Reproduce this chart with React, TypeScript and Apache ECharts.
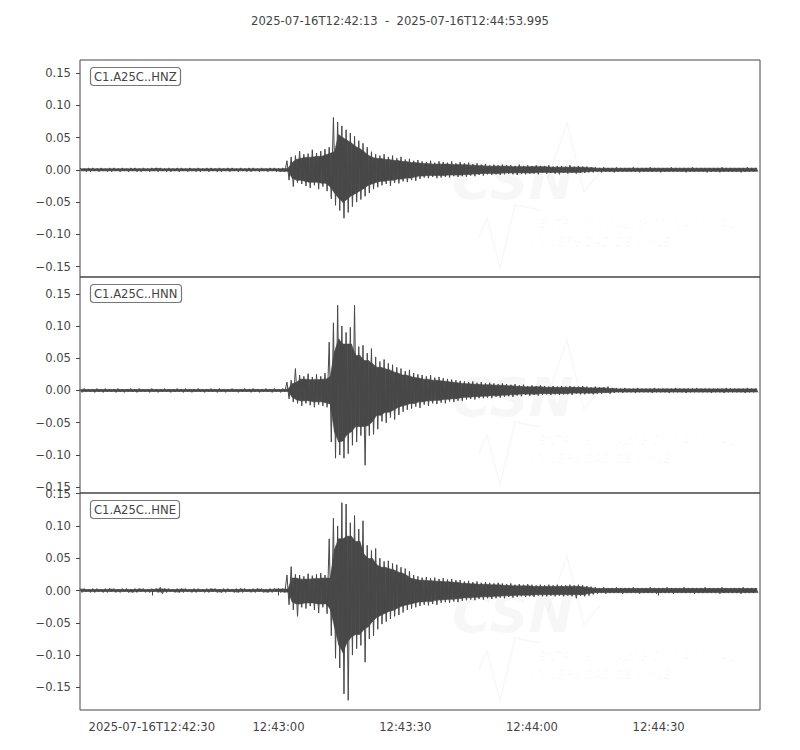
import React, { useEffect, useRef } from 'react';
import * as echarts from 'echarts';

// time window of the record (seconds after 12:42:13)
const windowTitle = '2025-07-16T12:42:13  -  2025-07-16T12:44:53.995';
const traceSeconds = 160.995;
const channels = ['C1.A25C..HNZ', 'C1.A25C..HNN', 'C1.A25C..HNE'];

// peak amplitude per 1 s bin, in units of 1e-3
const hnzUpper = [
	3, 2, 3, 3, 2, 3, 2, 3, 3, 2,
	3, 2, 3, 3, 2, 3, 2, 3, 3, 3,
	2, 3, 2, 3, 3, 2, 3, 2, 3, 2,
	3, 3, 2, 3, 2, 3, 3, 2, 3, 2,
	3, 3, 2, 3, 2, 3, 3, 2, 3, 14,
	20, 22, 29, 24, 25, 31, 26, 29, 32, 35,
	81, 74, 68, 62, 57, 52, 45, 41, 35, 28,
	24, 22, 24, 20, 22, 18, 20, 16, 17, 14,
	15, 13, 12, 14, 11, 13, 12, 11, 13, 10,
	12, 10, 11, 9, 10, 8, 9, 7, 8, 7,
	8, 7, 7, 6, 8, 6, 7, 6, 7, 6,
	6, 7, 5, 6, 6, 5, 7, 5, 6, 5,
	5, 4, 4, 3, 4, 3, 3, 4, 3, 3,
	3, 4, 3, 3, 3, 4, 3, 3, 3, 3,
	4, 3, 3, 3, 3, 4, 3, 3, 3, 3,
	3, 3, 4, 3, 3, 3, 3, 3, 4, 3,
	3
];
const hnzLower = [
	-2, -3, -3, -2, -3, -2, -3, -3, -2, -3,
	-2, -3, -2, -3, -3, -2, -3, -2, -3, -2,
	-3, -3, -2, -3, -2, -3, -2, -3, -3, -2,
	-3, -2, -3, -3, -2, -3, -2, -3, -2, -3,
	-3, -2, -3, -2, -3, -2, -3, -3, -3, -16,
	-26, -20, -22, -25, -28, -24, -30, -26, -33, -45,
	-55, -63, -75, -66, -57, -50, -46, -41, -36, -30,
	-27, -24, -22, -25, -20, -21, -18, -19, -16, -17,
	-14, -12, -13, -11, -13, -12, -11, -12, -10, -11,
	-10, -11, -9, -10, -8, -9, -7, -8, -7, -8,
	-7, -6, -7, -8, -6, -7, -6, -6, -7, -5,
	-6, -5, -6, -7, -5, -6, -5, -6, -5, -5,
	-4, -4, -3, -4, -3, -3, -4, -3, -3, -3,
	-3, -3, -4, -3, -3, -3, -3, -4, -3, -3,
	-3, -3, -3, -4, -3, -3, -3, -3, -4, -3,
	-3, -4, -3, -3, -3, -3, -4, -3, -3, -3,
	-3
];
const hnnUpper = [
	2, 3, 2, 2, 3, 2, 3, 2, 2, 3,
	2, 2, 3, 2, 3, 2, 2, 3, 2, 2,
	3, 2, 2, 3, 2, 3, 2, 2, 3, 2,
	2, 3, 2, 3, 2, 2, 3, 2, 2, 3,
	2, 3, 2, 2, 3, 2, 3, 2, 3, 13,
	16, 34, 24, 22, 26, 21, 25, 22, 27, 75,
	105, 132, 100, 90, 98, 132, 68, 70, 58, 65,
	52, 45, 48, 42, 40, 36, 34, 30, 32, 27,
	25, 24, 22, 24, 20, 21, 19, 18, 17, 16,
	15, 14, 13, 14, 12, 13, 11, 12, 11, 10,
	11, 10, 9, 10, 8, 9, 7, 8, 7, 8,
	7, 6, 7, 6, 7, 6, 7, 6, 6, 7,
	6, 5, 6, 5, 5, 6, 4, 4, 3, 4,
	3, 3, 4, 3, 3, 3, 4, 3, 3, 3,
	3, 4, 3, 3, 3, 3, 4, 3, 3, 3,
	3, 3, 3, 4, 3, 3, 3, 3, 4, 3,
	3
];
const hnnLower = [
	-3, -2, -2, -3, -2, -3, -2, -2, -3, -2,
	-3, -2, -2, -3, -2, -2, -3, -2, -3, -2,
	-2, -3, -2, -2, -3, -2, -3, -2, -2, -3,
	-2, -2, -3, -2, -3, -2, -2, -3, -2, -2,
	-3, -2, -3, -2, -2, -3, -2, -3, -2, -13,
	-18, -20, -24, -20, -23, -26, -22, -24, -26, -80,
	-105, -100, -105, -98, -85, -80, -70, -116, -70, -68,
	-60, -48, -50, -42, -45, -38, -33, -30, -28, -25,
	-27, -22, -24, -20, -21, -19, -20, -17, -18, -16,
	-16, -14, -13, -14, -12, -12, -11, -12, -10, -11,
	-10, -9, -10, -8, -9, -7, -8, -7, -8, -7,
	-6, -7, -6, -7, -6, -6, -7, -5, -6, -6,
	-5, -6, -5, -5, -4, -5, -4, -3, -4, -3,
	-3, -4, -3, -3, -3, -4, -3, -3, -3, -4,
	-3, -3, -3, -4, -3, -3, -3, -3, -3, -4,
	-3, -3, -4, -3, -3, -3, -3, -4, -3, -3,
	-3
];
const hneUpper = [
	3, 3, 2, 3, 3, 2, 3, 3, 3, 2,
	3, 3, 2, 3, 3, 3, 2, 3, 3, 5,
	3, 3, 2, 3, 3, 3, 2, 3, 3, 2,
	3, 3, 3, 2, 3, 3, 2, 3, 3, 3,
	2, 3, 3, 3, 2, 3, 3, 3, 3, 24,
	37, 25, 24, 22, 26, 23, 25, 27, 24, 80,
	112, 100, 136, 134, 105, 116, 95, 108, 70, 62,
	65, 50, 45, 46, 42, 40, 36, 34, 30, 24,
	22, 20, 21, 19, 20, 18, 19, 17, 18, 16,
	16, 14, 15, 13, 14, 12, 13, 12, 11, 12,
	11, 10, 11, 9, 10, 9, 10, 9, 8, 9,
	8, 9, 8, 9, 8, 8, 9, 8, 9, 8,
	7, 6, 5, 4, 5, 4, 4, 5, 4, 4,
	4, 5, 4, 4, 4, 5, 4, 4, 4, 5,
	4, 4, 4, 5, 4, 4, 4, 4, 5, 4,
	4, 4, 5, 4, 4, 4, 4, 5, 4, 4,
	4
];
const hneLower = [
	-3, -2, -3, -3, -2, -3, -3, -2, -3, -3,
	-2, -3, -3, -3, -2, -3, -3, -2, -3, -5,
	-3, -2, -3, -3, -3, -2, -3, -3, -2, -3,
	-3, -2, -3, -3, -3, -2, -3, -3, -3, -2,
	-3, -3, -2, -3, -3, -3, -2, -3, -3, -22,
	-30, -40, -26, -28, -24, -30, -35, -26, -36, -70,
	-105, -120, -160, -170, -100, -90, -85, -111, -75, -70,
	-60, -52, -48, -44, -40, -38, -34, -30, -28, -26,
	-24, -22, -23, -21, -22, -19, -18, -19, -17, -18,
	-16, -15, -14, -15, -13, -14, -12, -13, -12, -11,
	-12, -10, -11, -10, -9, -10, -9, -10, -8, -9,
	-9, -8, -9, -8, -9, -8, -9, -12, -8, -9,
	-8, -6, -5, -4, -5, -4, -4, -4, -5, -4,
	-4, -4, -5, -4, -4, -4, -5, -4, -4, -4,
	-5, -4, -4, -4, -4, -5, -4, -4, -4, -4,
	-4, -5, -4, -4, -4, -4, -5, -4, -4, -4,
	-4
];

const upperTraces = [hnzUpper, hnnUpper, hneUpper];
const lowerTraces = [hnzLower, hnnLower, hneLower];

// axis ticks
const timeTickSeconds = [17, 47, 77, 107, 137];
const timeTickLabels = ['2025-07-16T12:42:30', '12:43:00', '12:43:30', '12:44:00', '12:44:30'];
const ampTicks = [-0.15, -0.1, -0.05, 0, 0.05, 0.1, 0.15];
const ampLimits = [
	[-0.166, 0.170],
	[-0.159, 0.176],
	[-0.185, 0.151]
];

const panelTops = [60, 277, 493];
const panelHeights = [217, 216, 217];
const ink = '#444444';
const traceColor = '#484848';
const fontSize = 11.6;
// share of the neighbouring peaks that is drawn as a solid band
const coreShare = 0.8;

const App: React.FC = () => {
	const chartRef = useRef<HTMLDivElement>(null);

	useEffect(() => {
		if (!chartRef.current) return;
		const chart = echarts.init(chartRef.current, undefined, { renderer: 'svg' });

		const fmtAmp = (v: number) => (v < 0 ? '\u2212' : '') + Math.abs(v).toFixed(2);

		// zigzag between the peak and trough of each bin
		const traceData = (k: number) =>
			upperTraces[k].flatMap((u, i) => [
				[i, u / 1000],
				[i + 0.5, lowerTraces[k][i] / 1000]
			]);

		// solid core of the trace, under the smallest peak among neighbouring bins
		const coreData = (k: number) => {
			const up = upperTraces[k];
			const lo = lowerTraces[k];
			const cu = up.map((u, i) => (coreShare * Math.min(up[i - 1] ?? u, u, up[i + 1] ?? u)) / 1000);
			const cl = lo.map((l, i) => (coreShare * Math.max(lo[i - 1] ?? l, l, lo[i + 1] ?? l)) / 1000);
			return cu.slice(0, -1).map((u, i) => [i + 0.25, u, cl[i], i + 1.25, cu[i + 1], cl[i + 1]]);
		};

		// faint CSN watermark in each panel
		const wmStyle = { fill: '#000', opacity: 0.03 };
		const watermark = panelTops.flatMap(top => [
			{
				type: 'polyline',
				silent: true,
				shape: { points: [[478, top + 178], [487, top + 158], [500, top + 208], [515, top + 145], [540, top + 150]] },
				style: { stroke: '#000', lineWidth: 1.5, fill: null, opacity: 0.03 }
			},
			{
				type: 'polyline',
				silent: true,
				shape: { points: [[548, top + 118], [567, top + 63], [584, top + 132], [600, top + 112]] },
				style: { stroke: '#000', lineWidth: 1.5, fill: null, opacity: 0.03 }
			},
			{
				type: 'text',
				silent: true,
				x: 452,
				y: top + 147,
				style: { ...wmStyle, text: 'CSN', font: 'italic bold 54px "DejaVu Sans"', verticalAlign: 'bottom' }
			},
			{
				type: 'text',
				silent: true,
				x: 530,
				y: top + 158,
				style: { ...wmStyle, text: 'CENTRO SISMOLÓGICO NACIONAL', font: 'italic 12px "DejaVu Sans"' }
			},
			{
				type: 'text',
				silent: true,
				x: 528,
				y: top + 176,
				style: { ...wmStyle, text: 'UNIVERSIDAD DE CHILE', font: 'italic 12px "DejaVu Sans"' }
			}
		]);

		const option: any = {
			animation: false,
			backgroundColor: '#ffffff',
			textStyle: { fontFamily: 'DejaVu Sans' },
			title: [
				{
					text: windowTitle,
					left: 'center',
					top: 10,
					textStyle: { fontSize, fontWeight: 'normal', color: ink }
				},
				...channels.map((name, k) => ({
					text: name,
					left: 90,
					top: panelTops[k] + 7,
					padding: [4, 4, 3, 4],
					borderColor: '#777777',
					borderWidth: 1.2,
					borderRadius: 3,
					textStyle: { fontSize, fontWeight: 'normal', color: ink }
				}))
			],
			graphic: { elements: watermark },
			grid: channels.map((_, k) => ({
				left: 80,
				right: 40,
				top: panelTops[k],
				height: panelHeights[k],
				show: true,
				borderColor: ink,
				borderWidth: 1,
				backgroundColor: 'transparent'
			})),
			xAxis: channels.map((_, k) => ({
				type: 'value',
				gridIndex: k,
				min: 0,
				max: traceSeconds,
				axisLine: { show: false },
				splitLine: { show: false },
				axisTick: {
					show: k === 2,
					customValues: timeTickSeconds,
					length: 5,
					lineStyle: { color: ink }
				},
				axisLabel: {
					show: k === 2,
					customValues: timeTickSeconds,
					margin: 11,
					fontSize,
					color: ink,
					formatter: (v: number) => timeTickLabels[timeTickSeconds.indexOf(Math.round(v))] ?? ''
				}
			})),
			yAxis: channels.map((_, k) => ({
				type: 'value',
				gridIndex: k,
				min: ampLimits[k][0],
				max: ampLimits[k][1],
				axisLine: { show: false },
				splitLine: { show: false },
				axisTick: {
					show: true,
					customValues: ampTicks,
					length: 4,
					lineStyle: { color: ink }
				},
				axisLabel: {
					customValues: ampTicks,
					margin: 9,
					fontSize,
					color: ink,
					formatter: fmtAmp
				}
			})),
			series: channels.flatMap((name, k) => [
				{
					name: name + ' core',
					type: 'custom',
					xAxisIndex: k,
					yAxisIndex: k,
					data: coreData(k),
					encode: { x: [0, 3], y: [1, 2, 4, 5] },
					clip: true,
					silent: true,
					z: 2,
					renderItem: (_params: any, api: any) => {
						const a = api.coord([api.value(0), api.value(1)]);
						const b = api.coord([api.value(3), api.value(4)]);
						const c = api.coord([api.value(3), api.value(5)]);
						const d = api.coord([api.value(0), api.value(2)]);
						return {
							type: 'polygon',
							shape: { points: [a, b, c, d] },
							style: { fill: traceColor, stroke: traceColor, lineWidth: 0.6 }
						};
					}
				},
				{
					name,
					type: 'line',
					xAxisIndex: k,
					yAxisIndex: k,
					data: traceData(k),
					showSymbol: false,
					symbol: 'none',
					clip: true,
					lineStyle: { color: traceColor, width: 1 },
					z: 3
				}
			])
		};

		chart.setOption(option);

		return () => {
			chart.dispose();
		};
	}, []);

	return (
		<div
			ref={chartRef}
			style={{ position: 'absolute', left: 0, top: 0, width: '800px', height: '750px' }}
		/>
	);
};

export default App;
